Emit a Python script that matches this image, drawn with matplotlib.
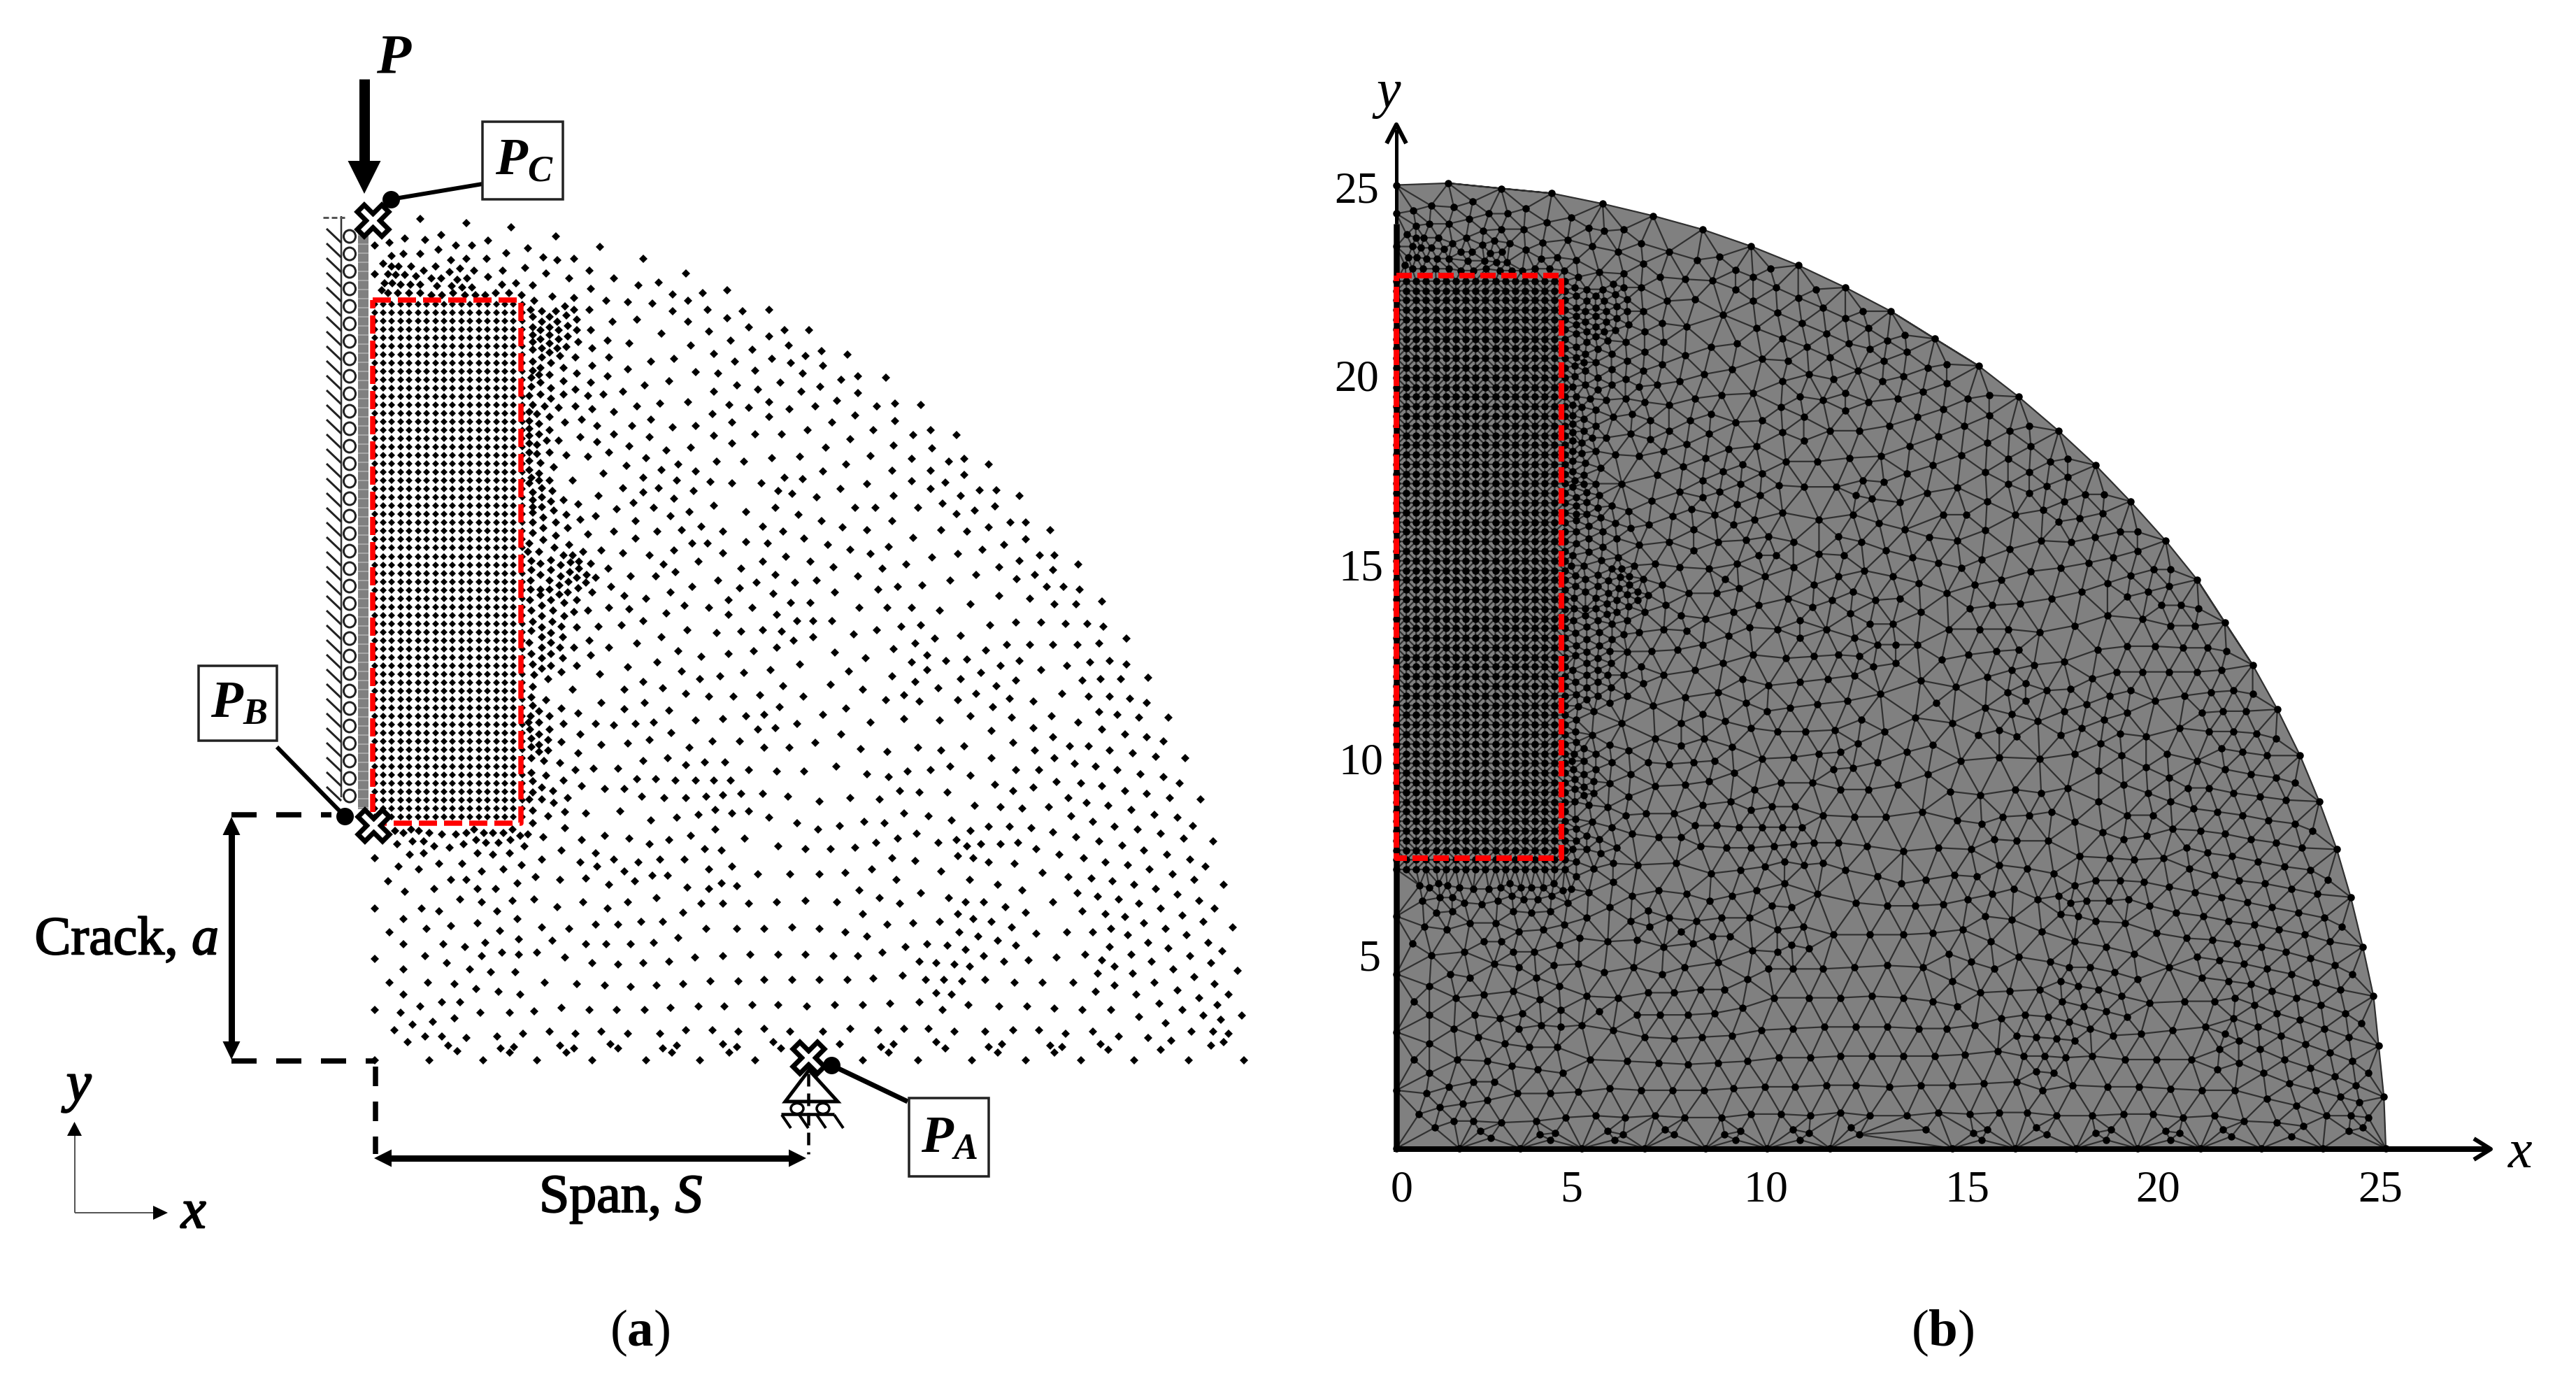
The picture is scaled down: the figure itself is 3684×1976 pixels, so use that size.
import matplotlib
matplotlib.use('Agg')
import matplotlib.pyplot as plt
import matplotlib.tri as mtri
import matplotlib.patheffects as pe
from matplotlib.colors import ListedColormap
from matplotlib.patches import Polygon, Rectangle, Ellipse
import numpy as np

plt.rcParams['font.family'] = ['Liberation Serif', 'DejaVu Serif']
plt.rcParams['mathtext.fontset'] = 'custom'
plt.rcParams['mathtext.rm'] = 'Liberation Serif'
plt.rcParams['mathtext.it'] = 'Liberation Serif:italic'
plt.rcParams['mathtext.bf'] = 'Liberation Serif:bold'
plt.rcParams['mathtext.bfit'] = 'Liberation Serif:italic:bold'
plt.rcParams['lines.scale_dashes'] = False

W, H = 3684, 1976

# mesh nodes (crop reading units)
# regular refined block
grid_x = [0, 0.25, 0.5, 0.75, 1, 1.25, 1.5, 1.75, 2, 2.25, 2.5, 2.75, 3, 3.25, 3.5, 3.75, 4, 4.25]
grid_y = [7.25, 7.5, 7.75, 8, 8.25, 8.5, 8.75, 9, 9.25, 9.5, 9.75, 10, 10.25, 10.5, 10.75, 11,
          11.25, 11.5, 11.75, 12, 12.25, 12.5, 12.75, 13, 13.25, 13.5, 13.75, 14, 14.25, 14.5,
          14.75, 15, 15.25, 15.5, 15.75, 16, 16.25, 16.5, 16.75, 17, 17.25, 17.5, 17.75, 18,
          18.25, 18.5, 18.75, 19, 19.25, 19.5, 19.75, 20, 20.25, 20.5, 20.75, 21, 21.25, 21.5,
          21.75, 22, 22.25, 22.5]

nodes_top = [(405, 855), (577, 848), (750, 868), (917, 886), (520, 932), (595, 938), (657, 917), (462, 950),
             (405, 962), (830, 943), (772, 962), (710, 962), (646, 982), (900, 995), (470, 1007), (515, 1000),
             (578, 1000), (692, 1025), (750, 1020), (825, 1020), (440, 1040), (470, 1052), (497, 1052),
             (544, 1052), (635, 1052), (727, 1063), (887, 1070), (590, 1072), (688, 1078), (778, 1072),
             (405, 1085), (458, 1085), (487, 1090), (520, 1090), (562, 1095), (618, 1105), (655, 1105),
             (715, 1110), (752, 1105), (830, 1098), (445, 1125), (472, 1125), (505, 1130), (540, 1130),
             (578, 1130), (640, 1138), (695, 1138), (735, 1143), (770, 1143), (882, 1130), (935, 1125),
             (435, 1155), (458, 1168), (493, 1168), (535, 1168), (578, 1168), (618, 1175), (658, 1175),
             (700, 1168), (745, 1175), (785, 1175), (820, 1175), (860, 1168), (910, 1168)]

nodes_sw = [(85, 25), (115, 33), (143, 18), (170, 25), (207, 33), (250, 38), (298, 38), (335, 32), (362, 18),
            (396, 32), (428, 32), (465, 32), (498, 18), (525, 44), (551, 38), (605, 50), (680, 12), (739, 63),
            (820, 44), (906, 57), (977, 82), (1046, 63), (1121, 44), (1208, 18), (1310, 57), (1428, 89),
            (1525, 101), (94, 82), (148, 70), (185, 70), (223, 89), (277, 95), (325, 82), (369, 63), (405, 76),
            (449, 76), (491, 63), (540, 89), (670, 107), (788, 120), (852, 146), (938, 158), (1014, 146),
            (1100, 146), (1170, 101), (1230, 107), (13, 140), (137, 127), (185, 121), (374, 121), (428, 127),
            (487, 121), (600, 146), (734, 158), (793, 178), (890, 197), (987, 215), (1041, 215), (1186, 190),
            (1267, 178), (1358, 209), (1471, 209), (99, 178), (169, 190), (239, 165), (320, 165), (390, 197),
            (465, 190), (530, 171), (62, 241), (282, 235), (336, 235), (577, 222), (664, 235), (755, 228),
            (836, 254), (927, 241), (1110, 267), (1186, 273), (1230, 248), (1284, 261), (121, 286), (223, 273),
            (374, 273), (438, 273), (514, 248), (314, 318), (390, 331), (498, 324), (573, 318), (744, 331),
            (901, 331), (1003, 312), (1159, 337), (1235, 337), (1326, 337), (1423, 331), (1525, 324), (13, 356),
            (180, 356), (239, 369), (444, 369), (653, 350), (831, 356), (1095, 375), (115, 401), (374, 420),
            (514, 401), (282, 433), (600, 439), (696, 445), (788, 426), (868, 426), (949, 414), (1024, 414),
            (1175, 445), (1284, 445), (1380, 445), (1477, 439), (67, 458), (196, 445), (454, 452), (1078, 483),
            (115, 509), (255, 509), (331, 522), (401, 503), (519, 490), (637, 496), (755, 509), (825, 509),
            (911, 509), (992, 503), (191, 560), (390, 560), (460, 547), (519, 554), (584, 547), (680, 566),
            (13, 573), (1137, 566), (1235, 560), (1331, 554), (1428, 554), (1525, 554), (266, 592), (777, 592),
            (868, 598), (955, 592), (1046, 586), (115, 617), (347, 617), (422, 630), (508, 630), (67, 676),
            (201, 676), (293, 682), (369, 701), (449, 714), (610, 676), (723, 682), (820, 688), (911, 694),
            (1003, 688), (1095, 682), (1191, 669), (1288, 669), (1380, 663), (1477, 663), (115, 727), (525, 727),
            (250, 759), (314, 759), (175, 778), (13, 791), (105, 803), (385, 803), (487, 803), (573, 797),
            (670, 784), (766, 791), (863, 791), (960, 791), (1051, 784), (1148, 778), (1240, 778), (1337, 772),
            (1428, 772), (1530, 778), (293, 829), (218, 842), (148, 855), (83, 880), (191, 906), (250, 906),
            (336, 912), (444, 906), (535, 893), (627, 886), (718, 893), (809, 886), (901, 893), (1014, 893),
            (1105, 880), (1197, 880), (1288, 886), (1380, 874), (1471, 886), (131, 931), (271, 944), (304, 969),
            (455, 957), (503, 950), (487, 976), (664, 944), (712, 957), (685, 976), (841, 938), (868, 957),
            (1024, 957), (1073, 944), (1057, 976), (1235, 938), (1284, 950), (1256, 976), (1412, 931), (1439, 957),
            (13, 1008), (207, 1008), (395, 1008), (584, 1008), (777, 1008), (965, 1008), (1154, 1008), (1348, 1008)]

nodes_se = [(25, 18), (100, 3), (370, 37), (305, 57), (229, 76), (154, 95), (68, 101), (558, 25), (622, 6),
            (697, 6), (772, 12), (848, 31), (928, 50), (1010, 69), (1090, 88), (1165, 107), (1246, 126), (1327, 146),
            (1381, 178), (1063, 6), (1144, 18), (1225, 37), (1305, 57), (1408, 69), (1338, 3), (445, 76), (509, 63),
            (546, 89), (595, 82), (664, 82), (724, 76), (789, 101), (870, 126), (955, 140), (1031, 158), (1111, 171),
            (1186, 190), (1267, 209), (1343, 235), (1445, 254), (283, 140), (364, 152), (514, 133), (568, 140),
            (622, 158), (713, 165), (30, 209), (121, 203), (213, 190), (456, 197), (810, 203), (902, 222), (982, 228),
            (1057, 241), (1133, 254), (1208, 273), (1284, 298), (1359, 324), (1413, 356), (300, 235), (557, 235),
            (654, 254), (740, 280), (170, 280), (385, 292), (239, 311), (482, 311), (90, 331), (310, 337), (541, 331),
            (606, 331), (681, 350), (848, 331), (934, 292), (1004, 305), (1079, 318), (1149, 337), (1225, 356),
            (1300, 388), (1375, 414), (181, 382), (514, 382), (568, 401), (632, 414), (751, 375), (950, 369),
            (1031, 382), (1101, 394), (1165, 420), (1241, 445), (1316, 471), (1392, 503), (1478, 439), (358, 420),
            (450, 414), (267, 426), (30, 445), (121, 458), (197, 477), (519, 458), (585, 477), (703, 439), (789, 464),
            (896, 458), (988, 458), (1052, 445), (1111, 471), (1181, 503), (1251, 528), (1327, 560), (1402, 592),
            (1440, 541), (331, 522), (406, 509), (477, 516), (541, 535), (654, 496), (719, 516), (79, 560), (165, 560),
            (251, 547), (379, 586), (439, 592), (503, 598), (557, 605), (606, 560), (676, 586), (762, 580), (859, 567),
            (961, 554), (1047, 522), (1122, 554), (1020, 580), (1063, 605), (1192, 586), (1268, 618), (1343, 650),
            (1494, 625), (30, 663), (127, 663), (219, 657), (321, 644), (401, 663), (466, 663), (530, 669), (611, 663),
            (713, 676), (810, 676), (918, 676), (1004, 637), (1128, 637), (1063, 688), (1203, 676), (1284, 708),
            (1359, 740), (1413, 682), (1462, 727), (439, 720), (493, 727), (998, 714), (1139, 727), (84, 772),
            (181, 772), (278, 766), (379, 759), (460, 791), (552, 772), (659, 778), (757, 778), (853, 785), (950, 791),
            (1052, 791), (1219, 765), (1300, 791), (1424, 772), (1375, 816), (1510, 816), (1149, 822), (1435, 835),
            (1241, 848), (41, 886), (138, 874), (235, 880), (326, 874), (412, 874), (503, 886), (611, 886), (708, 880),
            (799, 880), (891, 893), (988, 886), (1079, 906), (1181, 912), (1332, 886), (1408, 886), (1462, 893),
            (1262, 925), (100, 938), (246, 950), (289, 938), (272, 976), (439, 931), (471, 957), (622, 950), (670, 938),
            (654, 976), (837, 944), (880, 950), (853, 976), (1015, 938), (1041, 963), (1225, 963), (1402, 944),
            (1445, 931), (181, 1008), (375, 1008), (563, 1008), (751, 1008), (945, 1008), (1133, 1008), (1322, 1008),
            (1516, 1008)]

nodes_mid = [(49, 6), (81, 18), (118, 3), (151, 25), (187, 12), (215, 8), (258, 18), (215, 40), (183, 53), (118, 44),
             (49, 44), (81, 66), (151, 72), (209, 77), (242, 66), (274, 78), (241, 98), (178, 97), (113, 90), (46, 90),
             (81, 128), (113, 128), (146, 110), (214, 122), (177, 142), (146, 150), (81, 154), (46, 128), (263, 142),
             (118, 174), (209, 174), (43, 174), (163, 187), (85, 198), (124, 218), (199, 226), (247, 218), (50, 220),
             (163, 244), (85, 244), (123, 268), (53, 268), (155, 288), (209, 290), (85, 290), (50, 305), (118, 314),
             (85, 334), (160, 334), (42, 358), (85, 378), (118, 358), (150, 378), (199, 378), (252, 347), (49, 404),
             (85, 424), (118, 404), (160, 424), (258, 410), (53, 450), (118, 456), (85, 468), (155, 482), (209, 456),
             (58, 494), (107, 514), (53, 545), (193, 558), (49, 590), (101, 602), (53, 628), (155, 640), (214, 660),
             (75, 652), (113, 672), (46, 672), (75, 698), (162, 705), (40, 700), (113, 730), (75, 750), (44, 730),
             (48, 768), (107, 775), (155, 782), (48, 804), (75, 795), (75, 826), (107, 820), (214, 832), (48, 852),
             (92, 864), (150, 872), (204, 902), (49, 915), (101, 928), (162, 947), (53, 952), (85, 978), (124, 992),
             (53, 998), (42, 1030), (85, 1030), (128, 1044), (176, 1024), (53, 1076), (166, 1082), (107, 1101),
             (53, 1130), (318, 40), (398, 72), (484, 72), (511, 20), (553, 53), (634, 9), (785, 40), (860, 9),
             (904, 66), (1027, 9), (704, 91), (839, 98), (973, 98), (613, 116), (780, 123), (328, 116), (376, 155),
             (451, 167), (537, 142), (741, 174), (897, 148), (957, 187), (1027, 187), (322, 206), (392, 212), (521, 231),
             (586, 199), (672, 206), (741, 238), (822, 206), (908, 238), (284, 289), (365, 283), (441, 264), (596, 302),
             (699, 315), (785, 308), (860, 302), (925, 308), (979, 264), (505, 334), (419, 360), (322, 378), (967, 347),
             (564, 392), (645, 417), (741, 404), (827, 392), (908, 379), (489, 442), (387, 461), (290, 493), (575, 481),
             (640, 513), (710, 500), (795, 487), (887, 475), (989, 449), (441, 525), (376, 557), (510, 551), (591, 576),
             (672, 589), (758, 589), (849, 583), (930, 544), (1001, 589), (295, 615), (446, 615), (376, 641), (532, 647),
             (919, 634), (866, 666), (800, 672), (721, 685), (624, 691), (274, 704), (338, 711), (414, 704), (478, 698),
             (844, 730), (904, 724), (979, 704), (220, 749), (538, 743), (462, 775), (387, 788), (295, 794), (683, 781),
             (780, 781), (602, 806), (866, 806), (952, 806), (441, 864), (527, 851), (591, 883), (656, 870), (727, 870),
             (268, 896), (354, 896), (812, 902), (908, 908), (1005, 908), (419, 941), (484, 941), (553, 947), (624, 947),
             (688, 947), (747, 947), (225, 972), (306, 985), (376, 985), (435, 1017), (515, 1024), (591, 1024), (661, 1017),
             (721, 1011), (785, 1005), (860, 1005), (947, 1017), (360, 1081), (241, 1088), (694, 1075), (753, 1088),
             (812, 1081), (634, 1094), (559, 1107), (468, 1120), (882, 1107), (979, 1132)]

nodes_east = [(79, 34), (251, 40), (332, 21), (165, 72), (19, 91), (659, 34), (730, 6), (579, 66), (848, 46), (784, 66),
              (935, 21), (720, 85), (488, 91), (390, 110), (305, 117), (235, 129), (84, 142), (826, 117), (885, 117),
              (940, 129), (659, 155), (767, 168), (5, 187), (170, 206), (266, 206), (353, 206), (450, 218), (558, 193),
              (853, 193), (929, 193), (1020, 181), (7, 264), (73, 264), (230, 302), (316, 289), (385, 283), (628, 283),
              (719, 270), (805, 270), (891, 276), (967, 276), (1025, 289), (149, 321), (7, 334), (525, 327), (433, 340),
              (364, 359), (289, 385), (687, 366), (767, 366), (848, 366), (934, 366), (1010, 359), (1106, 340), (84, 398),
              (192, 423), (612, 391), (407, 410), (352, 442), (472, 436), (546, 430), (665, 455), (730, 436), (897, 455),
              (978, 442), (1047, 436), (1106, 449), (132, 481), (407, 474), (283, 500), (595, 487), (805, 474), (525, 513),
              (364, 525), (719, 519), (950, 519), (1015, 513), (1085, 513), (1182, 506), (68, 538), (181, 557), (445, 551),
              (649, 544), (326, 583), (579, 576), (880, 576), (972, 589), (1047, 589), (1117, 596), (262, 602), (380, 608),
              (515, 602), (697, 596), (778, 608), (1177, 615), (122, 640), (638, 634), (41, 666), (558, 672), (703, 679),
              (843, 672), (1010, 653), (1074, 666), (1150, 679), (1252, 679), (208, 698), (326, 685), (450, 691), (935, 698),
              (632, 736), (778, 723), (1020, 730), (106, 749), (848, 762), (1101, 749), (1177, 762), (14, 787), (708, 787),
              (1236, 781), (536, 800), (907, 800), (972, 800), (175, 813), (375, 806), (267, 826), (455, 819), (783, 819),
              (1047, 819), (1128, 832), (632, 851), (853, 851), (1209, 845), (1311, 851), (923, 877), (89, 889), (488, 889),
              (998, 889), (418, 902), (337, 908), (719, 902), (799, 902), (1074, 902), (197, 921), (272, 934), (558, 927),
              (1155, 921), (1236, 934), (1290, 960), (859, 953), (945, 960), (644, 966), (1020, 972), (779, 979), (310, 992),
              (380, 998), (477, 998), (708, 992), (1101, 992), (1177, 1005), (138, 1024), (239, 1030), (30, 1037), (902, 1024),
              (1257, 1024), (1365, 1030), (966, 1043), (573, 1056), (665, 1062), (740, 1069), (832, 1062), (1042, 1056),
              (1123, 1075), (326, 1088), (412, 1101), (493, 1120), (912, 1101), (1203, 1094), (1284, 1107), (988, 1126),
              (187, 1126), (257, 1132)]

nodes_north = [(134, 115), (37, 166), (289, 160), (91, 205), (139, 217), (198, 211), (441, 211), (26, 249), (101, 274),
               (252, 262), (591, 274), (181, 294), (338, 294), (53, 325), (425, 325), (494, 313), (258, 338), (736, 345),
               (650, 357), (543, 363), (15, 365), (123, 371), (198, 377), (58, 389), (311, 389), (387, 397), (473, 403),
               (597, 389), (881, 428), (790, 435), (667, 428), (543, 435), (252, 428), (166, 415), (199, 428), (134, 435),
               (85, 435), (47, 428), (172, 454), (53, 460), (209, 472), (112, 460), (85, 479), (139, 479), (333, 479),
               (419, 472), (597, 479), (736, 466), (812, 505), (935, 517), (1021, 517), (881, 543), (672, 523), (505, 530),
               (258, 517), (209, 517), (177, 498), (145, 517), (112, 505), (80, 517), (53, 505), (53, 536), (80, 555),
               (112, 536), (145, 555), (177, 543), (53, 568), (112, 574), (214, 568), (172, 587), (139, 594), (85, 594),
               (53, 600), (317, 562), (392, 574), (747, 562), (607, 581), (951, 581), (263, 594), (1065, 606), (822, 600),
               (112, 612), (150, 626), (85, 632), (53, 651), (204, 632), (322, 632), (1010, 626), (688, 619), (892, 638),
               (548, 638), (467, 651), (763, 651), (957, 657), (118, 657), (263, 670), (161, 677), (80, 677), (53, 689),
               (387, 683), (1070, 670), (833, 689), (624, 696), (704, 702), (1000, 702), (209, 702), (112, 708), (75, 708),
               (48, 721), (317, 715), (161, 734), (532, 734), (920, 740), (258, 740), (80, 740), (446, 753), (769, 753),
               (118, 766), (48, 760), (204, 772), (688, 779), (844, 772), (995, 779), (1060, 760), (370, 779), (301, 792),
               (161, 792), (247, 799), (80, 792), (42, 799), (118, 811), (1119, 818), (597, 824), (500, 830), (881, 824),
               (742, 836), (812, 849), (1043, 843), (419, 843), (204, 843), (263, 856), (145, 849), (96, 843), (53, 836),
               (952, 856), (338, 868), (683, 875), (42, 868), (69, 875), (112, 887), (881, 888), (225, 901), (467, 901),
               (166, 913), (753, 913), (1103, 913), (75, 919), (42, 906), (280, 926), (403, 926), (543, 932), (624, 926),
               (112, 945), (1017, 945), (42, 938), (75, 964), (338, 964), (688, 970), (833, 964), (925, 964), (220, 976),
               (462, 976), (145, 990), (102, 990), (42, 970), (69, 1009), (280, 996), (753, 1002), (42, 1002), (392, 1015),
               (607, 1021), (1080, 1021), (521, 1033), (69, 1048), (112, 1040), (42, 1040), (172, 1053), (321, 1040),
               (247, 1059), (451, 1066), (893, 1066), (990, 1059), (81, 1085), (42, 1078), (698, 1079), (795, 1079),
               (564, 1091), (128, 1104), (381, 1098), (505, 1117), (624, 1123), (1070, 1123), (301, 1130), (42, 1117),
               (75, 1130), (48, 1150), (441, 1149), (935, 1149), (1000, 1156), (112, 1162), (193, 1162), (75, 1162),
               (558, 1162), (677, 1168), (753, 1174), (854, 1174), (42, 1174), (85, 1194), (370, 1193), (494, 1193),
               (123, 1206), (618, 1206), (441, 1213), (914, 1206), (962, 1219), (53, 1213), (53, 1245), (85, 1232),
               (285, 1226), (1048, 1232), (548, 1238), (161, 1245), (118, 1251), (407, 1257), (214, 1264), (688, 1270),
               (85, 1276), (53, 1276), (478, 1277), (904, 1277), (349, 1283), (128, 1290), (800, 1296), (602, 1296),
               (53, 1300), (172, 1309), (275, 1315), (985, 1309), (91, 1321), (537, 1315), (220, 1328), (53, 1340),
               (134, 1340), (414, 1334), (1065, 1334), (177, 1366), (91, 1366), (645, 1360), (860, 1360), (53, 1385),
               (338, 1379), (489, 1379), (575, 1373), (721, 1379), (930, 1379), (247, 1392), (134, 1398), (91, 1417),
               (414, 1411), (1005, 1411), (800, 1424), (877, 1430), (613, 1430), (667, 1430), (182, 1437), (42, 1430),
               (129, 1449), (1087, 1437), (295, 1462), (548, 1462), (231, 1468), (75, 1468), (37, 1468), (370, 1474),
               (161, 1481), (193, 1481), (462, 1481), (721, 1474), (940, 1487), (118, 1495)]

nodes_ne = [(36, 320), (10, 428), (81, 415), (201, 421), (81, 486), (161, 544), (241, 531), (352, 537), (68, 582),
            (241, 607), (148, 646), (318, 665), (392, 646), (503, 665), (49, 684), (233, 710), (398, 722), (135, 755),
            (312, 768), (470, 780), (537, 768), (642, 793), (29, 793), (227, 819), (392, 819), (537, 838), (121, 876),
            (312, 863), (457, 870), (6, 896), (392, 896), (602, 902), (675, 902), (773, 928), (233, 928), (523, 928),
            (444, 960), (68, 978), (155, 978), (339, 978), (669, 972), (583, 991), (503, 1004), (227, 1036), (734, 1042),
            (800, 1042), (16, 1062), (641, 1062), (121, 1075), (437, 1075), (549, 1081), (906, 1075), (318, 1107),
            (800, 1113), (708, 1138), (213, 1145), (49, 1158), (616, 1158), (135, 1177), (510, 1177), (398, 1190),
            (860, 1183), (925, 1183), (773, 1195)]

# tick labels of the right panel
x_tick_labels = ['0', '5', '10', '15', '20', '25']
y_tick_labels = ['5', '10', '15', '20', '25']

# how the crop readings map to the picture: left, top, x zoom, y zoom
crop_info = [(nodes_top, 380, 30, 2.613, 3), (nodes_sw, 530, 1180, 2.45, 3), (nodes_se, 1160, 1180, 2.45, 3),
             (nodes_mid, 740, 800, 2.45, 3), (nodes_east, 1160, 800, 2.45, 3), (nodes_north, 740, 300, 2.45, 3),
             (nodes_ne, 1200, 400, 3, 3)]

LEFT = (535.5, 1517, 49.73, 48.1)    # origin px, px per mesh unit
RIGHT = (1997, 1643, 56.6, 55.16)

gx, gy = np.meshgrid(grid_x, grid_y)
all_x = list(gx.ravel())
all_y = list(gy.ravel())
n_grid = len(all_x)
for pts, ox, oy, kx, ky in crop_info:
    for a, b in pts:
        mx = max((ox + a / kx - LEFT[0]) / LEFT[2], 0)
        my = max((LEFT[1] - (oy + b / ky)) / LEFT[3], 0)
        # crops overlap a little, skip nodes already there
        d = np.hypot(np.array(all_x) - mx, np.array(all_y) - my)
        if d.min() > 0.12:
            all_x.append(mx)
            all_y.append(my)
all_x = np.array(all_x)
all_y = np.array(all_y)


def px(v):
    return v * 0.72  # px -> pt at dpi 100


def panel_axes(fig, info):
    x0, y0, sx, sy = info
    ax = fig.add_axes([x0 / W, (H - y0) / H, 25 * sx / W, 25 * sy / H])
    ax.set_xlim(0, 25)
    ax.set_ylim(0, 25)
    ax.axis('off')
    return ax


fig = plt.figure(figsize=(W / 100, H / 100), dpi=100, facecolor='white')

# left panel, nodes only; block dots a bit smaller so the white lattice stays open
ax_l = panel_axes(fig, LEFT)
ax_l.plot(all_x[:n_grid], all_y[:n_grid], ls='none', marker='D', ms=4.9, mew=0, color='black', clip_on=False)
ax_l.plot(all_x[n_grid:], all_y[n_grid:], ls='none', marker='D', ms=6.0, mew=0, color='black', clip_on=False)

# right panel, meshed
ax_r = panel_axes(fig, RIGHT)
tri = mtri.Triangulation(all_x, all_y)
ax_r.tripcolor(tri, np.zeros(len(all_x)), cmap=ListedColormap(['#808080']), shading='gouraud', clip_on=False)
ax_r.triplot(tri, color='#303030', lw=px(2.2), clip_on=False)
ax_r.plot(all_x, all_y, ls='none', marker='o', ms=px(10.5), mew=0, color='black', clip_on=False)

# everything else is drawn on top in picture pixels
ov = fig.add_axes([0, 0, 1, 1], facecolor='none')
ov.set_xlim(0, W)
ov.set_ylim(H, 0)
ov.axis('off')

heavy = [pe.withStroke(linewidth=px(2), foreground='black')]


def line(xs, ys, w, color='black', dash=None, z=5):
    ls = '-' if dash is None else (0, (px(dash[0]), px(dash[1])))
    ov.plot(xs, ys, color=color, lw=px(w), ls=ls, solid_capstyle='butt', dash_capstyle='butt', zorder=z)


def head(x1, y1, x0, y0, length, width, z=6):
    d = np.array([x1 - x0, y1 - y0], dtype=float)
    d /= np.hypot(*d)
    n = np.array([-d[1], d[0]])
    tip = np.array([x1, y1])
    base = tip - d * length
    ov.add_patch(Polygon([tip, base + n * width / 2, base - n * width / 2], closed=True, fc='black', ec='none', zorder=z))


def cross(x, y):
    ov.plot(x, y, marker='x', ms=px(40), mew=px(21), color='black', zorder=8)
    ov.plot(x, y, marker='x', ms=px(30), mew=px(7), color='white', zorder=9)


def box(x0, y0, x1, y1):
    ov.add_patch(Rectangle((x0, y0), x1 - x0, y1 - y0, fc='white', ec='#222222', lw=px(3.5), zorder=7))


def dot(x, y):
    ov.plot(x, y, marker='o', ms=px(25), mew=0, color='black', zorder=8)


# support strip along the symmetry line
line([488, 488], [309, 1140], 2.5, color='#333333')
line([462, 493], [311, 311], 3, color='#555555', dash=(8, 4))
for yy in range(327, 1130, 21):
    line([467, 488], [yy, yy + 20], 3, color='#222222')
ov.add_patch(Rectangle((512, 330), 15, 827, fc='#808080', ec='none', zorder=4))
for yy in range(336, 1157, 13):
    line([512, 527], [yy, yy], 1.5, color='#b5b5b5', z=4)
for yy in range(338, 1140, 25):
    ov.add_patch(Ellipse((500, yy), 17, 18, fc='white', ec='#222222', lw=px(3), zorder=5))

# red block outlines
for (x0, x1, y0, y1, dash, w) in [(533, 745, 429, 1177, (26, 10), 7.5), (1997, 2233, 394, 1227, (22, 8), 8)]:
    ov.plot([x0, x1, x1, x0, x0], [y0, y0, y1, y1, y0], color='#ff0000', lw=px(w), ls=(0, (px(dash[0]), px(dash[1]))),
            dash_capstyle='butt', zorder=6)

# load arrow and P
line([521, 521], [113, 235], 15)
head(521, 277, 521, 113, 47, 47)
ov.text(564, 85, r'$\mathbfit{P}$', fontsize=58, ha='center', va='center', zorder=9)

# P_C
line([559, 690], [285, 263], 6)
dot(559, 285)
cross(532.5, 315)
box(690, 174, 805, 285)
ov.text(750, 232, r'$\mathbfit{P}_{\mathbfit{C}}$', fontsize=54, ha='center', va='center', zorder=9)

# P_B
line([396, 493], [1068, 1167], 6)
dot(493, 1167)
cross(534, 1180)
box(284, 952, 396, 1059)
ov.text(342, 1008, r'$\mathbfit{P}_{\mathbfit{B}}$', fontsize=54, ha='center', va='center', zorder=9)

# P_A with roller
line([1156, 1156], [1535, 1650], 4.5, dash=(18, 10))
ov.add_patch(Polygon([(1157, 1530), (1198, 1575), (1123, 1575)], closed=True, fc='none', ec='black', lw=px(5), zorder=5))
for cx in [1140, 1177]:
    ov.add_patch(Ellipse((cx, 1585), 18, 15, fc='white', ec='black', lw=px(3.5), zorder=5))
line([1117, 1193], [1593, 1593], 4.5)
for hx in [1118, 1143, 1168, 1193]:
    line([hx, hx + 13], [1594, 1613], 4)
line([1189, 1298], [1523, 1575], 7)
dot(1189, 1523)
cross(1156, 1512)
box(1300, 1570, 1414, 1682)
ov.text(1358, 1630, r'$\mathbfit{P}_{\mathbfit{A}}$', fontsize=54, ha='center', va='center', zorder=9)

# crack and span dimensions
line([331, 474], [1165, 1165], 7.5, dash=(36, 28))
line([331, 535], [1517, 1517], 7.5, dash=(36, 28))
line([537, 537], [1525, 1650], 7.5, dash=(28, 22))
line([331, 331], [1185, 1498], 9)
head(331, 1168, 331, 1515, 26, 25)
head(331, 1515, 331, 1168, 26, 25)
ov.text(312, 1346, r'Crack, $\mathit{a}$', fontsize=56, ha='right', va='center', zorder=9, path_effects=heavy)
line([555, 1130], [1656, 1656], 9)
head(535, 1656, 1153, 1656, 25, 25)
head(1153, 1656, 535, 1656, 25, 25)
ov.text(888, 1716, r'Span, $\mathit{S}$', fontsize=56, ha='center', va='center', zorder=9, path_effects=heavy)

# small coordinate triad
line([106.5, 106.5], [1734, 1620], 2, color='#555555')
line([106.5, 225], [1734, 1734], 2, color='#555555')
head(106.5, 1604, 106.5, 1734, 20, 21)
head(240, 1734, 106.5, 1734, 21, 20)
ov.text(117, 1556, r'$\mathit{y}$', fontsize=58, ha='center', va='center', zorder=9, path_effects=heavy)
ov.text(278, 1736, r'$\mathit{x}$', fontsize=58, ha='center', va='center', zorder=9, path_effects=heavy)

# right panel axes
line([1997, 1997], [1643, 320], 8.5)
line([1997, 1997], [320, 185], 5)
line([1993, 3560], [1643, 1643], 8)
line([1983, 1997, 2011], [205, 178, 205], 6, z=6)
line([3538, 3562, 3538], [1628, 1643, 1658], 6, z=6)
ov.text(1984, 136, r'$\mathit{y}$', fontsize=56, ha='center', va='center', zorder=9)
ov.text(3604, 1650, r'$\mathit{x}$', fontsize=56, ha='center', va='center', zorder=9)

x_tick_px = [2005, 2247, 2525, 2813, 3086, 3404]
y_tick_px = [1372, 1091, 814, 543, 274]
y_tick_x = [1958, 1946, 1946, 1940, 1940]
for lab, xx in zip(x_tick_labels, x_tick_px):
    ov.text(xx, 1702, lab, fontsize=46, ha='center', va='center', zorder=9)
for lab, yy, xx in zip(y_tick_labels, y_tick_px, y_tick_x):
    ov.text(xx, yy, lab, fontsize=46, ha='center', va='center', zorder=9)

# panel captions
ov.text(915, 1906, r'($\mathbf{a}$)', fontsize=54, ha='center', va='center')
ov.text(2778, 1906, r'($\mathbf{b}$)', fontsize=54, ha='center', va='center')

fig.savefig('out.png', dpi=100)
